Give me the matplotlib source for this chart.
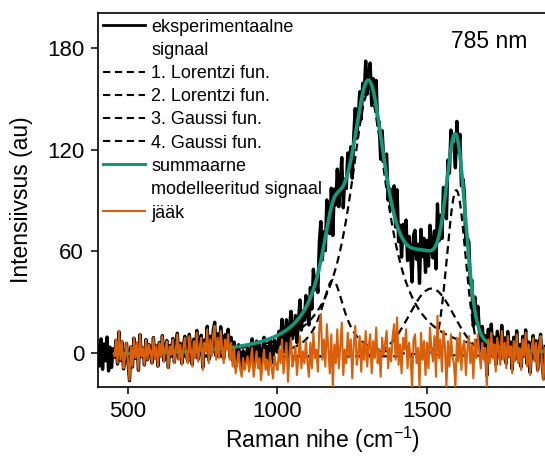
import numpy as np
import matplotlib.pyplot as plt

plt.rcParams["font.family"] = ["Liberation Sans", "DejaVu Sans"]
plt.rcParams["mathtext.fontset"] = "custom"
plt.rcParams["mathtext.rm"] = "Liberation Sans"

SHIFT_START = 400
SHIFT_STEP = 5
residual = [
    5, -7, 9, -9, 6, -4, 10, -10, 4, -8, 3, -2, 8, -6, 13, -4, 7, -9, -3, 6,
    -5, -16, 4, -8, 9, -3, 6, -10, 11, -2, 3, -7, 8, -4, 5, 1, -6, 9, -3, 4,
    -8, 6, -2, 10, -5, 3, 7, -9, 4, -1, 8, -6, 2, 11, -4, 5, -7, 3, 9, -2,
    -6, 10, 2, -8, 7, -3, 12, -5, 4, 9, -10, 6, 1, 14, -6, 8, -2, 11, 16, -4,
    9, -3, 13, 4, -6, 8, 2, 11, -4, 6, -8, 3, -12, -5, 1, -9, -14, -3, -10, -6,
    -2, -11, -5, 3, -14, -7, 1, -9, -3, -16, -6, 2, -10, -4, -13, 0, -8, -15, -2, -7,
    -10, 2, -6, 8, -12, -3, 6, -17, -1, 9, -8, -4, 4, -13, -2, 10, -9, 1, -6, 7,
    -5, -14, 6, -9, 12, -3, 2, -11, 15, 23, -4, 8, -8, 17, 3, -12, 11, -20, 5, -6,
    14, -9, 4, 18, -13, 2, -6, 12, -2, 8, -15, 5, 16, -7, 0, 10, -11, 6, -4, 13,
    -8, 4, 11, -12, 7, -3, 15, -6, 2, -14, 9, -1, 6, 13, -9, 3, -5, 10, 17, -4,
    21, -7, 5, -12, 9, 2, 14, -9, 6, -3, -20, 8, 11, -6, 3, -20, 12, -4, 7, -13,
    6, -9, 15, 2, -5, 10, -14, 22, -3, 8, -11, 13, 4, -20, 7, -8, 11, -2, -6, -20,
    9, -5, 12, -10, 4, 7, -13, 2, 10, -6, 5, -15, 8, -3, 11, 0, -9, 6, -4, 3,
    -20, 8, -6, 12, -3, 5, -11, 9, 1, -7, 13, -4, 6, -9, 10, -2, 4, -12, 7, -5,
    11, -6, 3, -10, 8, -2, 12, -8, 5, -13, 2, 9, -5, 6, -11, 4, 10, -7, -16, 3,
]

# fitted peaks (width = HWHM for Lorentz, sigma for Gauss)
peak_kind = ["lorentz", "lorentz", "gauss", "gauss"]
peak_center = [1185, 1305, 1515, 1598]
peak_height = [45, 156, 40, 98]
peak_width = [48, 78, 75, 31]
baseline = -2.0
FIT_START = 455

legend_lines = [
    "eksperimentaalne", "signaal", "1. Lorentzi fun.", "2. Lorentzi fun.",
    "3. Gaussi fun.", "4. Gaussi fun.", "summaarne",
    "modelleeritud signaal", "jääk",
]
legend_handle = ["data", None, "comp", "comp", "comp", "comp", "fit", None, "res"]

C_DATA = "#000000"
C_FIT = "#16977A"
C_RES = "#D95F0B"
DASH = (0, (3.5, 2.2))


def peak(x, kind, c, h, w):
  if kind == "lorentz":
    return h / (1 + ((x - c) / w) ** 2)
  return h * np.exp(-((x - c) ** 2) / (2 * w**2))


def components(x):
  return [
      peak(x, k, c, h, w)
      for k, c, h, w in zip(peak_kind, peak_center, peak_height, peak_width)
  ]


shift = SHIFT_START + SHIFT_STEP * np.arange(len(residual))
res = np.array(residual, dtype=float)
signal = baseline + np.sum(components(shift), axis=0) + res

xf = np.arange(FIT_START, 1905, 1.0)
comps = components(xf)
fit = baseline + np.sum(comps, axis=0)
fit_mask = shift >= FIT_START

W, H = 545, 457
fig = plt.figure(figsize=(W / 100, H / 100), dpi=100)
ax = fig.add_axes([98 / W, 1 - 387 / H, 450 / W, 374 / H])

ax.plot(shift, signal, color=C_DATA, lw=2.4, zorder=1)
for comp in comps:
  ax.plot(xf, baseline + comp, color="black", lw=1.6, ls=DASH, zorder=2)
ax.plot(xf, fit, color=C_FIT, lw=2.6, zorder=3)
ax.plot(shift[fit_mask], res[fit_mask], color=C_RES, lw=1.5, zorder=4)

ax.set_xlim(399.7, 1904.7)
ax.set_ylim(-20.06, 200.6)
ax.set_xticks([500, 1000, 1500])
ax.set_yticks([0, 60, 120, 180])
ax.tick_params(labelsize=16, length=5, width=1.1, pad=5, direction="out")
for side in ["left", "bottom", "top"]:
  ax.spines[side].set_linewidth(1.2)
ax.spines["right"].set_visible(False)

ax.set_xlabel("Raman nihe (cm$^{-1}$)", fontsize=16.5, va="center")
ax.xaxis.set_label_coords(0.5, (387 - 440) / 374)
ax.set_ylabel("Intensiivsus (au)", fontsize=16.5, va="center")
ax.yaxis.set_label_coords((22 - 98) / 450, 0.5)

ax.text(1707, 184, "785 nm", fontsize=16.5, ha="center", va="center")

# legend drawn by hand so multi-line labels keep the handle on the first line
styles = {
    "data": dict(color=C_DATA, lw=2.0),
    "comp": dict(color="black", lw=1.5, ls=DASH),
    "fit": dict(color=C_FIT, lw=2.2),
    "res": dict(color=C_RES, lw=1.5),
}
for i, (label, handle) in enumerate(zip(legend_lines, legend_handle)):
  ypx = 25 + 23.25 * i
  yy = (387 - ypx) / 374
  if handle:
    ax.plot([5 / 450, 47 / 450], [yy, yy], transform=ax.transAxes,
            clip_on=False, **styles[handle])
  ax.text(53 / 450, yy, label, transform=ax.transAxes, fontsize=13,
          ha="left", va="center_baseline")

fig.savefig("out.png", dpi=100)
